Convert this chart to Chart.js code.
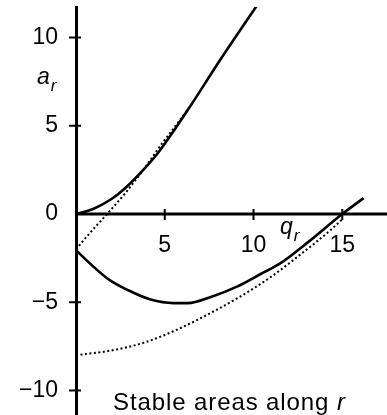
<!DOCTYPE html>
<html>
<head>
<meta charset="utf-8">
<script src="https://cdn.jsdelivr.net/npm/chart.js@4"></script>
<style>
  body { margin: 0; background: #fff; }
  #wrap { position: relative; width: 387px; height: 415px; font-family: 'Liberation Sans', Arial, sans-serif; color: #000; }
  #chart { position: absolute; left: 0; top: 0; }
  .lbl { position: absolute; line-height: 1; white-space: nowrap; }
  .it { font-style: italic; }
  .sub { font-size: 17px; position: relative; top: 7px; margin-left: 1px; }
</style>
</head>
<body>
<div id="wrap">
  <canvas id="chart" width="387" height="415"></canvas>
  <div class="lbl it" id="yTitle" style="left:37px; top:65px; font-size:23px;">a<span class="sub">r</span></div>
  <div class="lbl it" id="xTitle" style="left:280px; top:215px; font-size:23px;">q<span class="sub">r</span></div>
  <div class="lbl" id="caption" style="left:113px; top:390px; font-size:24px; letter-spacing:0.9px;">Stable areas along <span class="it">r</span></div>
</div>
<script>
// upper boundary (solid) and its approximation (dotted)
const upperQ = [0, 1, 2, 2.75, 3.7, 4.65, 5.6, 6.5, 8.1, 10.25];
const upperA = [0, 0.3, 0.85, 1.45, 2.4, 3.5, 4.85, 6.2, 8.7, 11.9];
const upperApproxQ = [0, 0.85, 1.75, 2.75, 3.9, 4.85, 5.8, 6.6];
const upperApproxA = [-2, -1.0, 0, 1.15, 2.65, 4.0, 5.25, 6.35];

// lower boundary (solid) and its approximation (dotted)
const lowerQ = [0, 1, 1.9, 2.9, 4.2, 5.5, 6.3, 7.6, 9.1, 10.4, 11.5, 13.0, 15.0, 16.2];
const lowerA = [-2.05, -3.0, -3.75, -4.3, -4.85, -5.05, -5.05, -4.7, -4.1, -3.4, -2.8, -1.65, 0, 0.9];
const lowerApproxQ = [0, 1.9, 3.8, 5.7, 7.6, 9.3, 11.0, 12.7, 14.35, 15.0];
const lowerApproxA = [-8.0, -7.75, -7.3, -6.55, -5.6, -4.65, -3.55, -2.25, -0.9, -0.3];

const xTicks = [5, 10, 15];
const yTicks = [-10, -5, 0, 5, 10];

const toPoints = (qs, as) => qs.map((q, i) => ({ x: q, y: as[i] }));
const fmt = v => v < 0 ? '\u2212' + Math.abs(v) : String(v);
const fontFamily = "'Liberation Sans', Arial, sans-serif";

function line(data, dotted) {
  return {
    data: data,
    showLine: true,
    borderColor: '#000',
    borderWidth: dotted ? 2 : 2.6,
    borderDash: dotted ? [2, 2.5] : [],
    pointRadius: 0,
    cubicInterpolationMode: 'monotone',
    fill: false
  };
}

// horizontal axis through a = 0, plus small ticks crossing both axes
const zeroAxis = {
  id: 'zeroAxis',
  beforeDatasetsDraw(chart) {
    const { ctx, chartArea, scales: { x, y } } = chart;
    const x0 = x.getPixelForValue(0);
    const y0 = y.getPixelForValue(0);
    ctx.save();
    ctx.strokeStyle = '#000';
    ctx.lineWidth = 3;
    ctx.beginPath();
    ctx.moveTo(x0, y0);
    ctx.lineTo(chartArea.right, y0);
    ctx.stroke();

    ctx.lineWidth = 2;
    yTicks.forEach(v => {
      if (v === 0) return;
      const py = y.getPixelForValue(v);
      ctx.beginPath();
      ctx.moveTo(x0 - 7, py);
      ctx.lineTo(x0 + 5, py);
      ctx.stroke();
    });
    ctx.fillStyle = '#000';
    ctx.font = '23px ' + fontFamily;
    ctx.textAlign = 'center';
    ctx.textBaseline = 'top';
    xTicks.forEach(v => {
      const px = x.getPixelForValue(v);
      ctx.beginPath();
      ctx.moveTo(px, y0 - 5);
      ctx.lineTo(px, y0 + 6);
      ctx.stroke();
      ctx.fillText(fmt(v), px, y0 + 20);
    });
    ctx.restore();
  }
};

new Chart(document.getElementById('chart'), {
  type: 'scatter',
  data: {
    datasets: [
      line(toPoints(upperApproxQ, upperApproxA), true),
      line(toPoints(lowerApproxQ, lowerApproxA), true),
      line(toPoints(upperQ, upperA), false),
      line(toPoints(lowerQ, lowerA), false)
    ]
  },
  options: {
    responsive: false,
    animation: false,
    events: [],
    layout: { padding: { left: 0, top: 7, right: 0, bottom: 0 } },
    plugins: { legend: { display: false }, tooltip: { enabled: false } },
    scales: {
      x: {
        type: 'linear',
        min: 0,
        max: 17.52,
        display: false
      },
      y: {
        type: 'linear',
        min: -11.39,
        max: 11.73,
        position: 'left',
        grid: { display: false, drawTicks: false },
        border: { color: '#000', width: 3 },
        afterBuildTicks: s => { s.ticks = yTicks.map(v => ({ value: v })); },
        afterFit: s => { s.width = 76; s.paddingTop = 0; s.paddingBottom = 0; },
        ticks: { color: '#000', font: { family: fontFamily, size: 23 }, padding: 18, autoSkip: false, callback: v => fmt(v) }
      }
    }
  },
  plugins: [zeroAxis]
});
</script>
</body>
</html>
